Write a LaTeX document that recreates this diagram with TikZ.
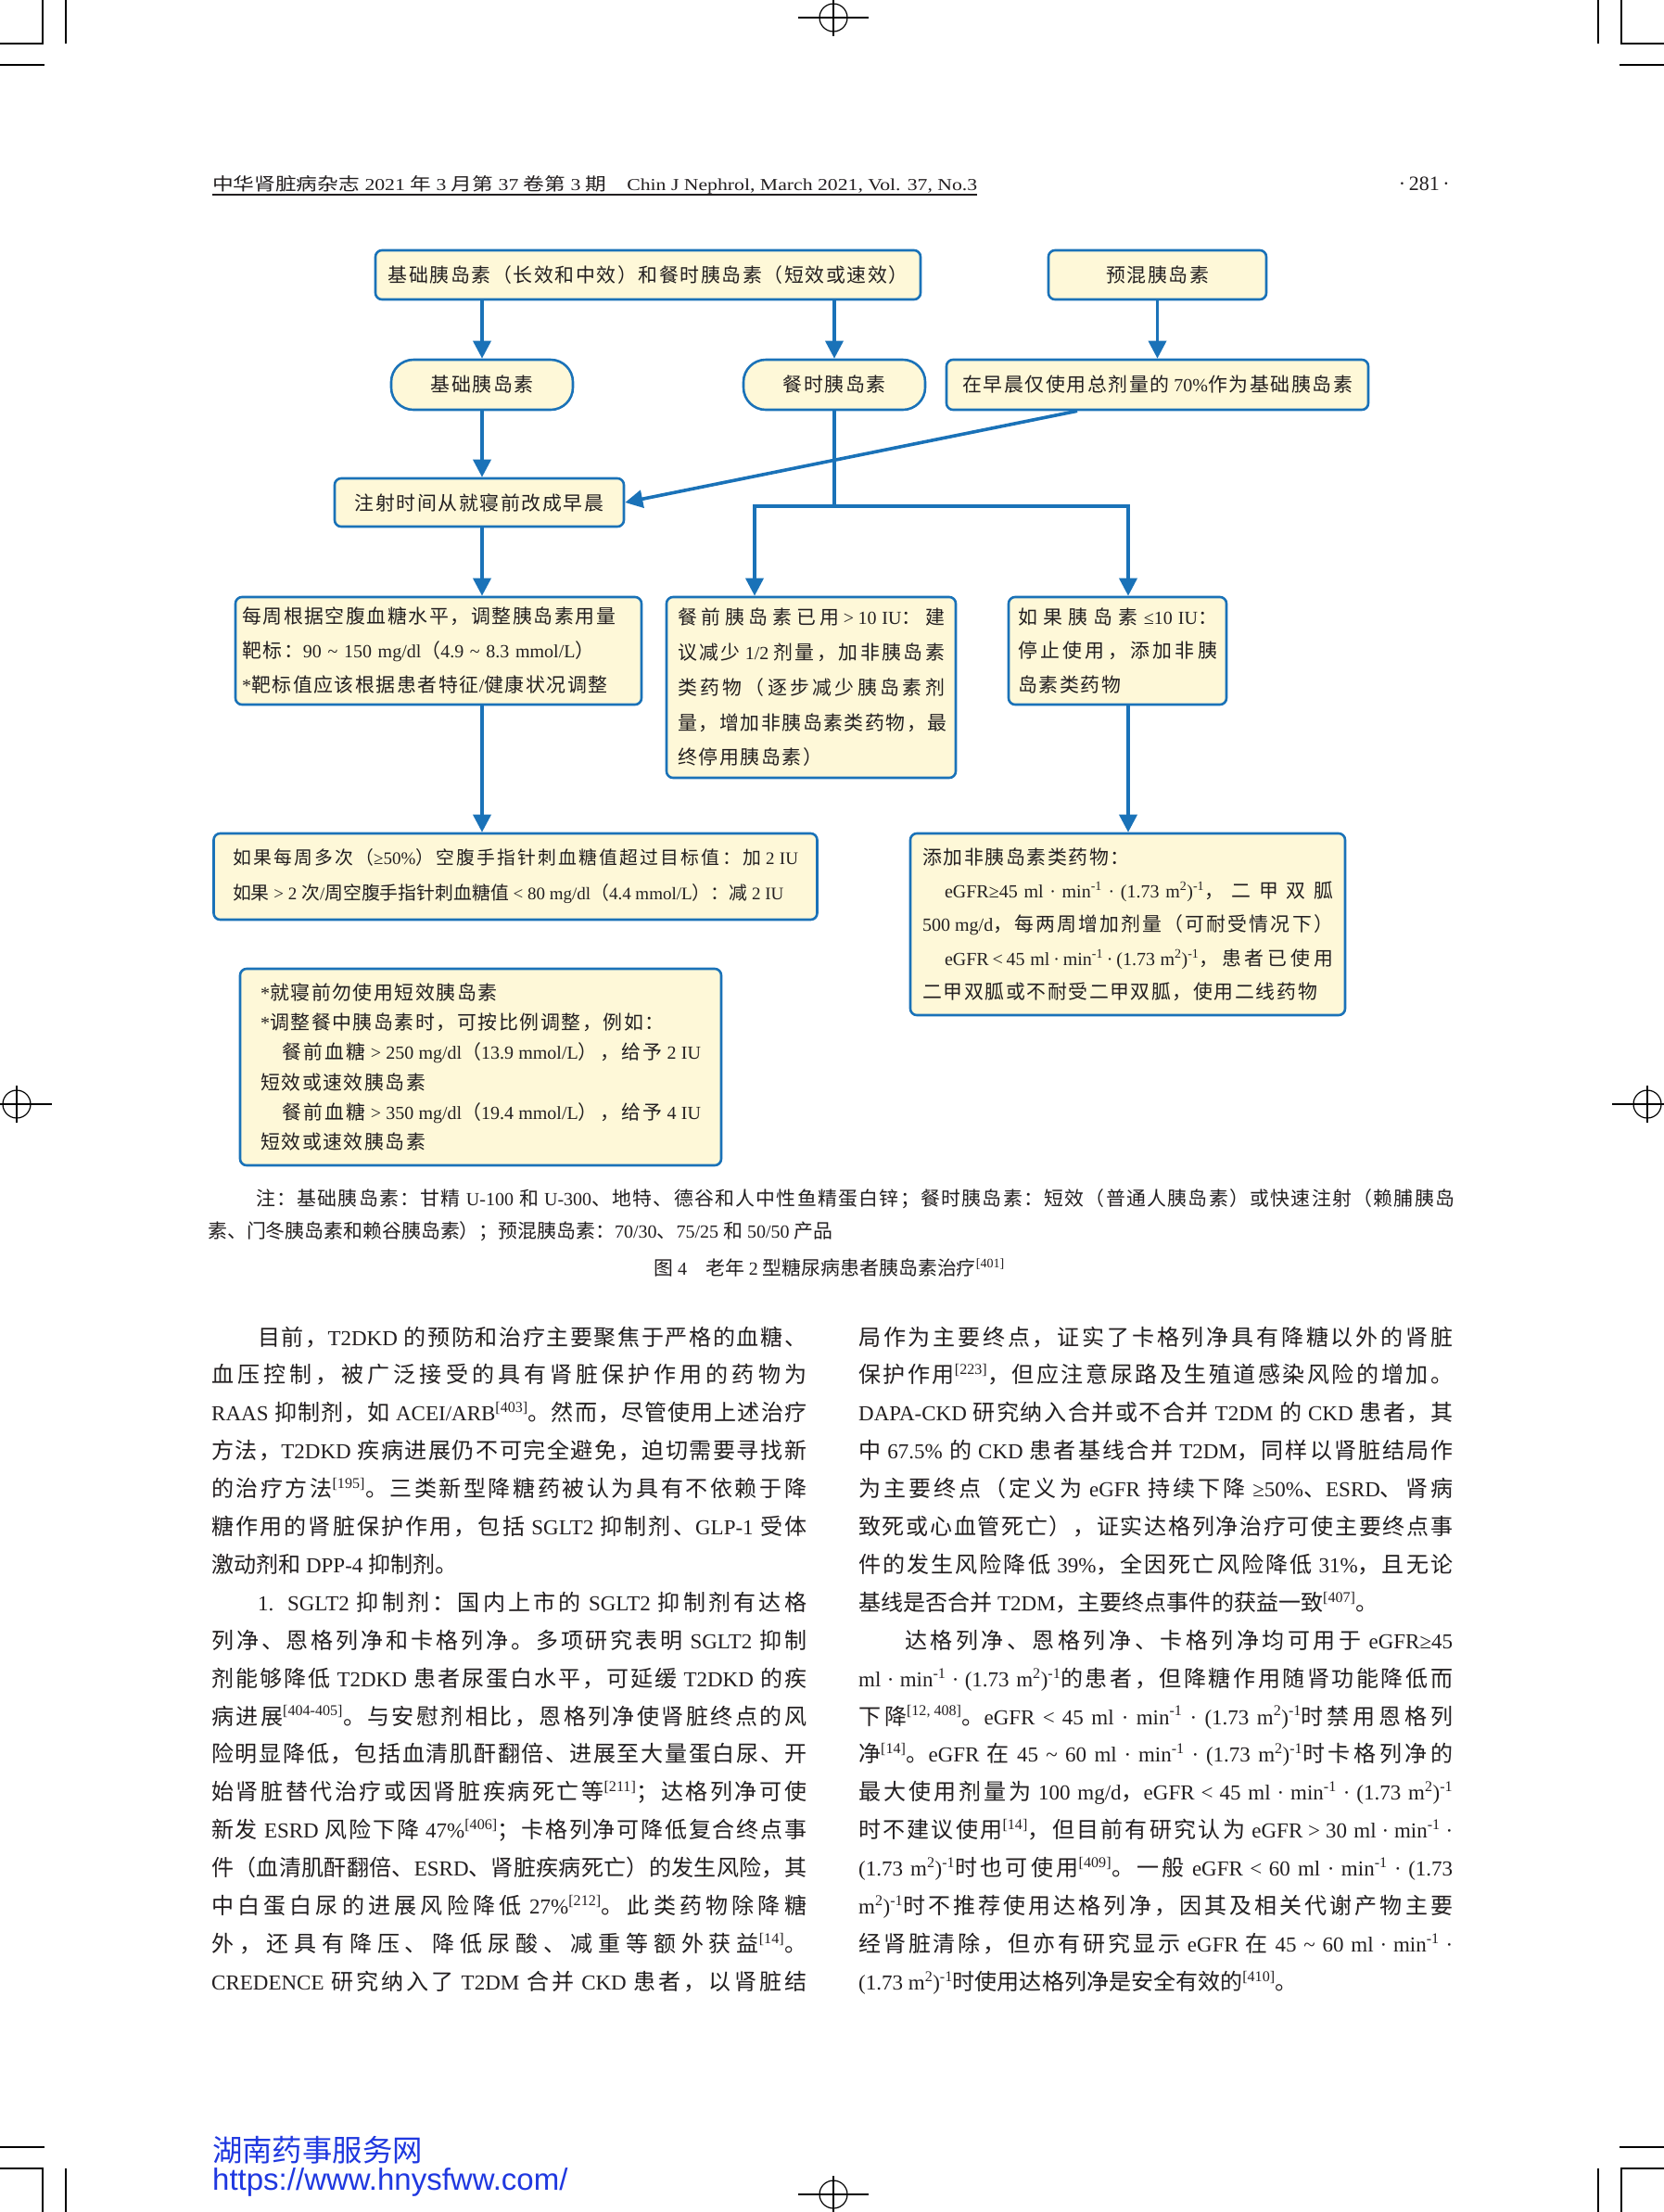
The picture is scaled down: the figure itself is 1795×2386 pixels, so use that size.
\documentclass[tikz,border=0pt]{standalone}
\usepackage{fontspec}
\usepackage{graphicx}
\setmainfont{Liberation Serif}
\newfontfamily\cjkfont{Noto Sans CJK SC}[Scale=1.045]
\newfontfamily\latfont{Liberation Serif}
\newfontfamily\urlfont{Liberation Sans}
\usetikzlibrary{arrows.meta}
\definecolor{bblue}{HTML}{1A72B8}
\definecolor{bfill}{HTML}{FEF8D8}
\definecolor{txt}{HTML}{231F20}
\definecolor{wmblue}{HTML}{1F38E0}
\newskip\cjkskip \cjkskip=0pt
\tolerance=10000 \pretolerance=-1 \hbadness=10000 \hfuzz=50pt
\hyphenpenalty=10000 \exhyphenpenalty=10000
\XeTeXinterchartokenstate=1
\newXeTeXintercharclass\CJKcls
\makeatletter
\count@="2E80
\loop\ifnum\count@<"A000 \XeTeXcharclass\count@=\CJKcls \advance\count@\@ne\repeat
\count@="FF00
\loop\ifnum\count@<"FFF0 \XeTeXcharclass\count@=\CJKcls \advance\count@\@ne\repeat
\makeatother
\XeTeXinterchartoks 0 \CJKcls = {\cjkfont}
\XeTeXinterchartoks 4095 \CJKcls = {\cjkfont}
\XeTeXinterchartoks \CJKcls 0 = {\latfont}
\XeTeXinterchartoks \CJKcls 4095 = {\latfont}
\XeTeXinterchartoks \CJKcls \CJKcls = {\nobreak\hskip\cjkskip}
\newcommand\ff[1]{\fontsize{20}{#1}\selectfont\cjkskip=1.6pt plus 10pt\relax}
\newcommand\bodyfont{\fontsize{23}{40.9}\selectfont\cjkskip=0pt plus 4pt\relax}
\newcommand\notefont{\fontsize{20}{35}\selectfont\cjkskip=0pt plus 3pt\relax}
\newcommand\us{\nobreak\hskip 2.5pt plus 6pt\nobreak}
\newcommand\ux{ml\us·\us min\textsuperscript{-1}\us·\us(1.73~m\textsuperscript{2})\textsuperscript{-1}}
\begin{document}
\begin{tikzpicture}[x=1pt,y=-1pt,
 fb/.style={draw=bblue, line width=2.6pt, fill=bfill, rounded corners=7pt, inner sep=0pt, text=txt, align=center},
 pillbox/.style={fb, rounded corners=24pt},
 arr/.style={draw=bblue, line width=3.6pt, -{Triangle[length=19pt,width=19pt]}},
 lk/.style={draw=bblue, line width=3.6pt},
 cropm/.style={draw=black, line width=1.2pt},
 bodycol/.style={anchor=base west, inner sep=0pt, text width=#1, align=justify, text=txt, font=\bodyfont}
]
\fill[white] (0,0) rectangle (1795,2386);
\useasboundingbox (0,0) rectangle (1795,2386);
% crop marks
\draw[cropm] (46,0) -- (46,47) -- (0,47);
\draw[cropm] (71,0) -- (71,47);
\draw[cropm] (0,70) -- (48,70);
\draw[cropm] (1749,0) -- (1749,47) -- (1795,47);
\draw[cropm] (1724,0) -- (1724,47);
\draw[cropm] (1747,70) -- (1795,70);
\draw[cropm] (46,2386) -- (46,2339) -- (0,2339);
\draw[cropm] (71,2386) -- (71,2339);
\draw[cropm] (0,2316) -- (48,2316);
\draw[cropm] (1749,2386) -- (1749,2339) -- (1795,2339);
\draw[cropm] (1724,2386) -- (1724,2339);
\draw[cropm] (1747,2316) -- (1795,2316);
\foreach \cx/\cy in {899/19, 899/2367, 18/1191, 1777/1191}{
  \draw[cropm] (\cx,\cy) circle[radius=15];
  \draw[cropm] (\cx-38,\cy) -- (\cx+38,\cy);
  \draw[cropm] (\cx,\cy-20) -- (\cx,\cy+20);
}
% header
\node[anchor=base west, inner sep=0pt, text=txt, font=\fontsize{19}{19}\selectfont] (hdr) at (229,205)
 {\resizebox{825pt}{16pt}{中华肾脏病杂志 2021 年 3 月第 37 卷第 3 期\quad Chin J Nephrol, March 2021, Vol. 37, No.3}};
\draw[line width=1.2pt, txt] ([yshift=-5pt]hdr.base west) -- ([yshift=-5pt]hdr.base east);
\node[anchor=base east, inner sep=0pt, text=txt, font=\fontsize{22}{22}\selectfont] (pg) at (1564,205) {·\,281\,·};
% flowchart boxes
\node[fb, minimum width=588pt, minimum height=53pt, font=\ff{37}] (A) at (699,296.5) {基础胰岛素（长效和中效）和餐时胰岛素（短效或速效）};
\node[fb, minimum width=235pt, minimum height=53pt, font=\ff{37}] (D) at (1248.5,296.5) {预混胰岛素};
\node[pillbox, minimum width=196pt, minimum height=54pt, font=\ff{37}] (B) at (520,415) {基础胰岛素};
\node[pillbox, minimum width=196pt, minimum height=54pt, font=\ff{37}] (C) at (900,415) {餐时胰岛素};
\node[fb, minimum width=455pt, minimum height=54pt, font=\ff{37}] (E) at (1248.5,415) {在早晨仅使用总剂量的 70\%作为基础胰岛素};
\node[fb, minimum width=312pt, minimum height=52pt, font=\ff{37}] (F) at (517,542) {注射时间从就寝前改成早晨};
\node[fb, text width=424pt, inner xsep=7pt, minimum height=116pt, align=left, font=\ff{37}] (G) at (473,702)
 {每周根据空腹血糖水平，调整胰岛素用量\newline
  靶标：90 \textasciitilde{} 150 mg/dl（4.9 \textasciitilde{} 8.3 mmol/L）\newline
  {}*靶标值应该根据患者特征/健康状况调整};
\node[fb, text width=288pt, inner xsep=12pt, minimum height=195pt, align=justify, font=\ff{37.8}] (H) at (875,741.5)
 {餐前胰岛素已用\us>\us10~IU：建\linebreak
  议减少 1/2 剂量，加非胰岛素\linebreak
  类药物（逐步减少胰岛素剂\linebreak
  量，增加非胰岛素类药物，最\linebreak
  终停用胰岛素）};
\node[fb, text width=215pt, inner xsep=10pt, minimum height=116pt, align=justify, font=\ff{36.5}] (J) at (1205.5,702)
 {如果胰岛素 ≤10~IU：\linebreak
  停止使用，添加非胰\linebreak
  岛素类药物};
\node[fb, text width=610pt, inner xsep=20.5pt, minimum height=93pt, align=justify, font={\fontsize{19}{38}\selectfont\cjkskip=0pt plus 10pt\relax}] (I) at (556,945.5)
 {如果每周多次（≥50\%）空腹手指针刺血糖值超过目标值：加~2~IU\linebreak
  如果~>~2~次/周空腹手指针刺血糖值~<~80~mg/dl（4.4~mmol/L）：减~2~IU\parfillskip=0pt};
\node[fb, text width=443pt, inner xsep=13pt, minimum height=196pt, align=justify, font=\ff{36.3}] (K) at (1216.5,997)
 {添加非胰岛素类药物：\newline
  \hspace*{24pt}eGFR≥45 \ux，二甲双胍\linebreak
  500 mg/d，每两周增加剂量（可耐受情况下）\linebreak
  \hspace*{24pt}eGFR\us<\us45 \ux，患者已使用\linebreak
  二甲双胍或不耐受二甲双胍，使用二线药物\parfillskip=0pt};
\node[fb, text width=475pt, inner xsep=22pt, minimum height=212pt, align=justify, font=\ff{32.2}] (L) at (518.5,1151)
 {*就寝前勿使用短效胰岛素\newline
  {}*调整餐中胰岛素时，可按比例调整，例如：\newline
  \hspace*{23pt}餐前血糖 > 250 mg/dl（13.9 mmol/L），给予 2~IU\linebreak
  短效或速效胰岛素\newline
  \hspace*{23pt}餐前血糖 > 350 mg/dl（19.4 mmol/L），给予 4~IU\linebreak
  短效或速效胰岛素};
% connectors
\draw[arr] (A.south -| B.north) -- (B.north);
\draw[arr] (A.south -| C.north) -- (C.north);
\draw[arr] (D.south) -- (E.north);
\draw[arr] (B.south) -- (B.south |- F.north);
\draw[arr] ([xshift=-86.5pt]E.south) -- (F.east);
\coordinate (split) at (900,546);
\coordinate (sl) at (814,546);
\coordinate (sr) at (1217,546);
\draw[lk] (C.south) -- (split);
\draw[arr] (split) -- (sl) -- (sl |- H.north);
\draw[arr] (split) -- (sr) -- (sr |- J.north);
\draw[arr] (B.south |- F.south) -- (B.south |- G.north);
\draw[arr] (B.south |- G.south) -- (B.south |- I.north);
\draw[arr] (sr |- J.south) -- (sr |- K.north);
% note and caption
\node[anchor=base west, inner sep=0pt, text width=1345pt, align=justify, text=txt, font=\notefont] (note) at (224,1300)
 {\hspace*{52pt}注：基础胰岛素：甘精 U-100 和 U-300、地特、德谷和人中性鱼精蛋白锌；餐时胰岛素：短效（普通人胰岛素）或快速注射（赖脯胰岛\linebreak
  素、门冬胰岛素和赖谷胰岛素）；预混胰岛素：70/30、75/25 和 50/50 产品};
\node[anchor=base, inner sep=0pt, text=txt, font=\fontsize{20}{20}\selectfont] (cap) at (894.5,1375)
 {图 4\quad 老年 2 型糖尿病患者胰岛素治疗\textsuperscript{[401]}};
% body columns
\node[bodycol=642pt] (colL) at (228,1451)
 {\hspace*{50pt}目前，T2DKD 的预防和治疗主要聚焦于严格的血糖、\linebreak
血压控制，被广泛接受的具有肾脏保护作用的药物为\linebreak
RAAS 抑制剂，如 ACEI/ARB\textsuperscript{[403]}。然而，尽管使用上述治疗\linebreak
方法，T2DKD 疾病进展仍不可完全避免，迫切需要寻找新\linebreak
的治疗方法\textsuperscript{[195]}。三类新型降糖药被认为具有不依赖于降\linebreak
糖作用的肾脏保护作用，包括 SGLT2 抑制剂、GLP-1 受体\linebreak
激动剂和 DPP-4 抑制剂。\par
\hspace*{50pt}1. SGLT2 抑制剂：国内上市的 SGLT2 抑制剂有达格\linebreak
列净、恩格列净和卡格列净。多项研究表明 SGLT2 抑制\linebreak
剂能够降低 T2DKD 患者尿蛋白水平，可延缓 T2DKD 的疾\linebreak
病进展\textsuperscript{[404-405]}。与安慰剂相比，恩格列净使肾脏终点的风\linebreak
险明显降低，包括血清肌酐翻倍、进展至大量蛋白尿、开\linebreak
始肾脏替代治疗或因肾脏疾病死亡等\textsuperscript{[211]}；达格列净可使\linebreak
新发 ESRD 风险下降 47\%\textsuperscript{[406]}；卡格列净可降低复合终点事\linebreak
件（血清肌酐翻倍、ESRD、肾脏疾病死亡）的发生风险，其\linebreak
中白蛋白尿的进展风险降低 27\%\textsuperscript{[212]}。此类药物除降糖\linebreak
外，还具有降压、降低尿酸、减重等额外获益\textsuperscript{[14]}。\linebreak
CREDENCE 研究纳入了 T2DM 合并 CKD 患者，以肾脏结\parfillskip=0pt\par};
\node[bodycol=641pt] (colR) at (926,1451)
 {局作为主要终点，证实了卡格列净具有降糖以外的肾脏\linebreak
保护作用\textsuperscript{[223]}，但应注意尿路及生殖道感染风险的增加。\linebreak
DAPA-CKD 研究纳入合并或不合并 T2DM 的 CKD 患者，其\linebreak
中 67.5\% 的 CKD 患者基线合并 T2DM，同样以肾脏结局作\linebreak
为主要终点（定义为 eGFR 持续下降 ≥50\%、ESRD、肾病\linebreak
致死或心血管死亡），证实达格列净治疗可使主要终点事\linebreak
件的发生风险降低 39\%，全因死亡风险降低 31\%，且无论\linebreak
基线是否合并 T2DM，主要终点事件的获益一致\textsuperscript{[407]}。\par
\hspace*{50pt}达格列净、恩格列净、卡格列净均可用于 eGFR≥45\linebreak
\ux 的患者，但降糖作用随肾功能降低而\linebreak
下降\textsuperscript{[12, 408]}。eGFR\us<\us45 \ux 时禁用恩格列\linebreak
净\textsuperscript{[14]}。eGFR 在 45 \textasciitilde{} 60 \ux 时卡格列净的\linebreak
最大使用剂量为 100 mg/d，eGFR\us<\us45 \ux\linebreak
时不建议使用\textsuperscript{[14]}，但目前有研究认为 eGFR\us>\us30 ml\us·\us min\textsuperscript{-1}\us·\linebreak
(1.73 m\textsuperscript{2})\textsuperscript{-1}时也可使用\textsuperscript{[409]}。一般 eGFR\us<\us60 ml\us·\us min\textsuperscript{-1}\us·\us(1.73\linebreak
m\textsuperscript{2})\textsuperscript{-1}时不推荐使用达格列净，因其及相关代谢产物主要\linebreak
经肾脏清除，但亦有研究显示 eGFR 在 45 \textasciitilde{} 60 ml\us·\us min\textsuperscript{-1}\us·\linebreak
(1.73 m\textsuperscript{2})\textsuperscript{-1}时使用达格列净是安全有效的\textsuperscript{[410]}。};
% watermark
\node[anchor=base west, inner sep=0pt, text=wmblue, font=\fontsize{31}{31}\selectfont] (wm1) at (229,2331) {湖南药事服务网};
\node[anchor=base west, inner sep=0pt, text=wmblue, font=\urlfont\fontsize{33}{33}\selectfont] (wm2) at (229,2362) {https://www.hnysfww.com/};
\end{tikzpicture}
\end{document}
